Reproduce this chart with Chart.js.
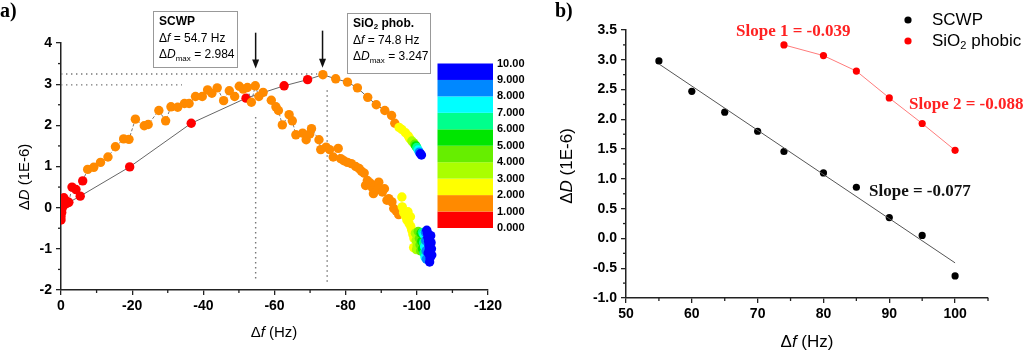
<!DOCTYPE html>
<html>
<head>
<meta charset="utf-8">
<script src="https://cdn.jsdelivr.net/npm/chart.js@4.4.1/dist/chart.umd.min.js"></script>
<style>
  body { margin: 0; background: #fff; width: 1024px; height: 353px; position: relative; overflow: hidden; }
  canvas { position: absolute; top: 0; }
  #chartA { left: 0; }
  #chartB { left: 520px; }
</style>
</head>
<body>
<canvas id="chartA" width="545" height="353"></canvas>
<canvas id="chartB" width="504" height="353"></canvas>
<script>
// ---- panel a data (delta f in Hz, delta D in 1E-6) ----
const scwpDf = [
  0, 0, -0.2, -0.3, -0.5, -0.6, -0.8, -1.5, -2.2, -3.1, -4.2, -6.1,
  -7.5, -9.2, -11.1, -13.2, -15.3, -17.6, -19.1, -20.9, -23.4, -24.5,
  -27.5, -29.4, -30.9, -32.8, -34.7, -36.0, -37.8, -39.7, -41.2, -42.4,
  -43.9, -45.7, -47.3, -48.8, -50.1, -51.2, -52.4, -53.5, -54.6, -55.6,
  -56.8, -59.1, -60.4, -61.1, -62.2, -64.1, -65.0, -66.0, -67.9, -68.9,
  -69.9, -70.4, -72.5, -73.0, -74.5, -75.5, -76.5, -77.9, -78.6, -79.5,
  -80.5, -81.6, -82.8, -83.8, -84.5, -85.2, -86.1, -85.6, -86.9, -87.4,
  -88.4, -89.3, -87.8, -89.0, -90.3, -90.9, -91.6, -92.1, -93.0, -93.5,
  -94.2, -94.9,
  -95.8, -95.9, -96.3, -97.5, -96.8, -98.2, -97.2, -97.8, -98.3, -98.6, -98.9, -99.2, -99.1,
  -99.6, -99.8, -100.1, -99.9,
  -100.4, -100.7, -100.9, -101.1,
  -101.2, -101.4, -101.6,
  -101.6, -101.9, -102.0,
  -102.0, -102.2, -102.3,
  -102.4, -102.5, -102.6, -102.7,
  -102.8, -103.0, -103.1, -103.3, -103.4, -103.5, -103.6, -103.7, -103.6, -104.2, -103.9, -104.0, -104.1, -103.2
];
const scwpDd = [
  -0.30, -0.22, -0.12, -0.02, 0.08, 0.18, 0.24, 0.16, 0.13, 0.50, 0.44, 0.65,
  0.93, 0.98, 1.10, 1.23, 1.48, 1.67, 1.66, 2.15, 1.99, 2.02,
  2.36, 2.11, 2.45, 2.44, 2.53, 2.53, 2.70, 2.70, 2.86, 2.78,
  2.91, 2.60, 2.84, 2.70, 2.95, 2.88, 2.92, 2.56, 2.96, 2.70,
  2.80, 2.61, 2.45, 2.36, 2.01, 2.26, 2.11, 1.77, 1.81, 1.65,
  1.79, 1.92, 1.65, 1.41, 1.47, 1.41, 1.23, 1.44, 1.19, 1.14,
  1.10, 1.07, 1.00, 0.95, 0.88, 0.84, 0.66, 0.54, 0.60, 0.50,
  0.54, 0.62, 0.34, 0.45, 0.38, 0.46, 0.18, 0.22, 0.14, -0.02,
  -0.08, -0.17,
  0.26, 0.02, -0.12, -0.10, -0.20, -0.22, -0.30, -0.38, -0.46, -0.55, -0.65, -0.75, -0.97,
  -0.62, -0.80, -0.92, -1.02,
  -0.58, -0.75, -0.90, -1.05,
  -0.62, -0.82, -1.00,
  -0.60, -0.85, -1.10,
  -0.65, -0.95, -1.20,
  -0.60, -0.80, -1.05, -1.25,
  -0.55, -0.62, -0.72, -0.82, -0.92, -1.02, -1.12, -1.22, -1.32, -1.15, -0.68, -0.85, -1.00, -1.10
];
// number of consecutive points in each colour band 0..9
const scwpBandCounts = [12, 72, 13, 4, 4, 3, 3, 3, 4, 14];

const sioDf = [
  0, -0.3, -0.8, -1.6, -5.4, -19.3, -36.6, -52.0, -62.7, -69.3,
  -73.6, -77.2, -80.5, -83.3, -86.2, -88.6, -91.0, -92.9, -93.8,
  -95.0, -95.8, -96.8, -97.6, -98.0,
  -98.6, -99.0, -99.4, -99.7, -100.0, -100.4, -100.7, -101.0, -101.3
];
const sioDd = [
  0.00, 0.03, 0.06, 0.10, 0.28, 0.99, 2.05, 2.66, 2.96, 3.11,
  3.23, 3.13, 3.05, 2.91, 2.68, 2.50, 2.36, 2.24, 2.05,
  1.95, 1.90, 1.82, 1.74, 1.68,
  1.62, 1.58, 1.54, 1.50, 1.46, 1.40, 1.35, 1.31, 1.28
];
const sioBandCounts = [10, 9, 5, 2, 1, 1, 1, 1, 1, 2];

const bandColors = ['#ff0000', '#ff8a00', '#ffff00', '#aaff00', '#66ee00', '#00e600', '#00ff8c', '#00ffff', '#0088ff', '#0000ff'];
const bandLabels = ['0.000', '1.000', '2.000', '3.000', '4.000', '5.000', '6.000', '7.000', '8.000', '9.000', '10.00'];

const xTicksA = [0, -20, -40, -60, -80, -100, -120];
const xMinorA = [-10, -30, -50, -70, -90, -110];
const yTicksA = [-2, -1, 0, 1, 2, 3, 4];
const yMinorA = [-1.5, -0.5, 0.5, 1.5, 2.5, 3.5];

// peak markers
const peakScwp = { df: -54.7, dd: 2.984 };
const peakSio = { df: -74.8, dd: 3.247 };

// ---- panel b data ----
const scwpDfB = [55, 60, 65, 70, 74, 80, 85, 90, 95, 100];
const scwpDdB = [2.98, 2.47, 2.12, 1.80, 1.46, 1.10, 0.86, 0.35, 0.05, -0.63];
const sioDfB = [74, 80, 85, 90, 95, 100];
const sioDdB = [3.25, 3.07, 2.81, 2.36, 1.93, 1.48];
const fitDfB = [55, 100];
const fitDdB = [2.93, -0.41];

const xTicksB = [50, 60, 70, 80, 90, 100];
const xMinorB = [55, 65, 75, 85, 95, 105];
const yTicksB = [-1.0, -0.5, 0.0, 0.5, 1.0, 1.5, 2.0, 2.5, 3.0, 3.5];
const yMinorB = [-0.75, -0.25, 0.25, 0.75, 1.25, 1.75, 2.25, 2.75, 3.25];

const SANS = '"Liberation Sans", Arial, sans-serif';
const SERIF = '"Liberation Serif", "Times New Roman", serif';

function pts(xs, ys) {
  return xs.map((x, i) => ({ x: x, y: ys[i] }));
}

function colorsFromCounts(counts) {
  const out = [];
  counts.forEach((n, band) => {
    for (let i = 0; i < n; i++) out.push(bandColors[band]);
  });
  return out;
}

// draw a line of text made of several styled parts
function richText(ctx, parts, x, y, align) {
  ctx.textBaseline = 'middle';
  ctx.textAlign = 'left';
  let w = 0;
  parts.forEach(p => { ctx.font = p.font; w += ctx.measureText(p.t).width; });
  let cx = align === 'center' ? x - w / 2 : x;
  parts.forEach(p => {
    ctx.font = p.font;
    ctx.fillStyle = p.color || '#000';
    ctx.fillText(p.t, cx, y + (p.dy || 0));
    cx += ctx.measureText(p.t).width;
  });
}

function minorTicks(chart, axis, values, len) {
  const s = chart.scales[axis], ctx = chart.ctx, a = chart.chartArea;
  ctx.save();
  ctx.strokeStyle = '#222';
  ctx.lineWidth = 1.3;
  values.forEach(v => {
    const p = s.getPixelForValue(v);
    ctx.beginPath();
    if (axis === 'x') { ctx.moveTo(p, a.bottom); ctx.lineTo(p, a.bottom + len); }
    else { ctx.moveTo(a.left, p); ctx.lineTo(a.left - len, p); }
    ctx.stroke();
  });
  ctx.restore();
}

function axisTitles(chart, size, xPos, yPos) {
  const ctx = chart.ctx;
  const reg = size + 'px ' + SANS, ital = 'italic ' + size + 'px ' + SANS;
  richText(ctx, [{ t: '\u0394', font: reg }, { t: 'f', font: ital }, { t: ' (Hz)', font: reg }], xPos[0], xPos[1], 'center');
  ctx.save();
  ctx.translate(yPos[0], yPos[1]);
  ctx.rotate(-Math.PI / 2);
  richText(ctx, [{ t: '\u0394', font: reg }, { t: 'D', font: ital }, { t: ' (1E-6)', font: reg }], 0, 0, 'center');
  ctx.restore();
}

function downArrow(ctx, x, y1, y2) {
  ctx.save();
  ctx.strokeStyle = '#111';
  ctx.fillStyle = '#111';
  ctx.lineWidth = 1.5;
  ctx.beginPath();
  ctx.moveTo(x, y1);
  ctx.lineTo(x, y2 - 6);
  ctx.stroke();
  ctx.beginPath();
  ctx.moveTo(x - 3.5, y2 - 9);
  ctx.lineTo(x + 3.5, y2 - 9);
  ctx.lineTo(x, y2);
  ctx.closePath();
  ctx.fill();
  ctx.restore();
}

function infoBox(ctx, x, y, w, h, title, df, dd) {
  ctx.save();
  ctx.strokeStyle = '#999';
  ctx.lineWidth = 1;
  ctx.strokeRect(x + 0.5, y + 0.5, w, h);
  const b = 'bold 12px ' + SANS, r = '12px ' + SANS, it = 'italic 12px ' + SANS, sub = '8px ' + SANS;
  richText(ctx, title, x + 6, y + 11, 'left');
  richText(ctx, [{ t: '\u0394', font: r }, { t: 'f', font: it }, { t: ' = ' + df + ' Hz', font: r }], x + 6, y + 28, 'left');
  richText(ctx, [{ t: '\u0394', font: r }, { t: 'D', font: it }, { t: 'max', font: sub, dy: 4 }, { t: ' = ' + dd, font: r }], x + 6, y + 44, 'left');
  ctx.restore();
}

const decorA = {
  id: 'decorA',
  beforeDatasetsDraw(chart) {
    const ctx = chart.ctx, xs = chart.scales.x, ys = chart.scales.y;
    ctx.save();
    ctx.strokeStyle = '#777';
    ctx.lineWidth = 1.4;
    ctx.setLineDash([1.4, 3.6]);
    const seg = (x1, y1, x2, y2) => {
      ctx.beginPath();
      ctx.moveTo(xs.getPixelForValue(x1), ys.getPixelForValue(y1));
      ctx.lineTo(xs.getPixelForValue(x2), ys.getPixelForValue(y2));
      ctx.stroke();
    };
    seg(0, peakSio.dd, -72, peakSio.dd);
    seg(0, peakScwp.dd, -34, peakScwp.dd);
    seg(peakScwp.df, 2.2, peakScwp.df, -1.8);
    seg(peakSio.df, 2.85, peakSio.df, -1.85);
    ctx.restore();
  },
  afterDraw(chart) {
    const ctx = chart.ctx, xs = chart.scales.x, ys = chart.scales.y;
    minorTicks(chart, 'x', xMinorA, 3);
    minorTicks(chart, 'y', yMinorA, 3);
    axisTitles(chart, 15, [274, 333], [25, 177]);

    // arrows pointing at the two maxima
    downArrow(ctx, xs.getPixelForValue(peakScwp.df), ys.getPixelForValue(4.25), ys.getPixelForValue(3.38));
    downArrow(ctx, xs.getPixelForValue(-73.5), ys.getPixelForValue(4.3), ys.getPixelForValue(3.4));

    const b = 'bold 12px ' + SANS;
    infoBox(ctx, 153, 11, 84, 56, [{ t: 'SCWP', font: b }], '54.7', '2.984');
    infoBox(ctx, 347, 13, 83, 60, [{ t: 'SiO', font: b }, { t: '2', font: 'bold 8px ' + SANS, dy: 3 }, { t: ' phob.', font: b }], '74.8', '3.247');

    // colour scale
    const cx = 437.5, cy = 63.5, cw = 55.5, ch = 164.5, bh = ch / bandColors.length;
    bandColors.forEach((c, i) => {
      ctx.fillStyle = c;
      ctx.fillRect(cx, cy + ch - (i + 1) * bh, cw, bh);
    });
    ctx.fillStyle = '#000';
    ctx.font = 'bold 11px ' + SANS;
    ctx.textAlign = 'left';
    ctx.textBaseline = 'middle';
    bandLabels.forEach((l, i) => ctx.fillText(l, cx + cw + 4, cy + ch - i * bh));

    ctx.font = 'bold 20px ' + SERIF;
    ctx.fillText('a)', 0, 12);
  }
};

const decorB = {
  id: 'decorB',
  afterDraw(chart) {
    const ctx = chart.ctx;
    minorTicks(chart, 'x', xMinorB, 3);
    minorTicks(chart, 'y', yMinorB, 3);
    axisTitles(chart, 17, [287, 342], [47, 166]);

    // legend
    const r = '17px ' + SANS;
    ctx.fillStyle = '#000';
    ctx.beginPath(); ctx.arc(388, 20, 3.6, 0, Math.PI * 2); ctx.fill();
    ctx.fillStyle = '#ff0000';
    ctx.beginPath(); ctx.arc(388, 41, 3.6, 0, Math.PI * 2); ctx.fill();
    richText(ctx, [{ t: 'SCWP', font: r }], 412, 20, 'left');
    richText(ctx, [{ t: 'SiO', font: r }, { t: '2', font: '11px ' + SANS, dy: 5 }, { t: ' phobic', font: r }], 412, 41, 'left');

    // slope labels
    const s = 'bold 17px ' + SERIF;
    richText(ctx, [{ t: 'Slope 1 = -0.039', font: s, color: '#ff2222' }], 216, 32, 'left');
    richText(ctx, [{ t: 'Slope 2 = -0.088', font: s, color: '#ff2222' }], 389, 105, 'left');
    richText(ctx, [{ t: 'Slope = -0.077', font: s, color: '#111' }], 349, 192, 'left');

    ctx.fillStyle = '#000';
    ctx.font = 'bold 20px ' + SERIF;
    ctx.textAlign = 'left';
    ctx.fillText('b)', 35, 12);
  }
};

function axisOpts(min, max, ticks, fmt, fitSize, isX) {
  return {
    type: 'linear',
    min: min,
    max: max,
    afterFit: s => { if (isX) s.height = fitSize; else s.width = fitSize; },
    afterBuildTicks: s => { s.ticks = ticks.map(v => ({ value: v })); },
    grid: { drawOnChartArea: false, drawTicks: true, tickLength: 5, color: '#222', lineWidth: 1.3 },
    border: { display: true, color: '#222', width: 1.5 },
    ticks: {
      color: '#000',
      font: { family: SANS, size: 14, weight: 'bold' },
      padding: isX ? 3 : 4,
      maxRotation: 0,
      autoSkip: false,
      callback: fmt
    }
  };
}

// ---- panel a ----
const xA = axisOpts(-120, 0, xTicksA, v => String(v), 63, true);
xA.reverse = true;
new Chart(document.getElementById('chartA').getContext('2d'), {
  type: 'scatter',
  data: {
    datasets: [
      {
        label: 'SCWP',
        data: pts(scwpDf, scwpDd),
        showLine: true,
        borderColor: '#777',
        borderWidth: 1,
        borderDash: [3, 2],
        pointBackgroundColor: colorsFromCounts(scwpBandCounts),
        pointBorderWidth: 0,
        pointRadius: 4.7
      },
      {
        label: 'SiO2 phob.',
        data: pts(sioDf, sioDd),
        showLine: true,
        borderColor: '#666',
        borderWidth: 1,
        pointBackgroundColor: colorsFromCounts(sioBandCounts),
        pointBorderWidth: 0,
        pointRadius: 4.7
      }
    ]
  },
  options: {
    responsive: false,
    animation: false,
    layout: { padding: { left: 0, right: 57, top: 43, bottom: 0 } },
    plugins: { legend: { display: false }, tooltip: { enabled: false } },
    scales: {
      x: xA,
      y: axisOpts(-2, 4, yTicksA, v => String(v), 61, false)
    }
  },
  plugins: [decorA]
});

// ---- panel b ----
new Chart(document.getElementById('chartB').getContext('2d'), {
  type: 'scatter',
  data: {
    datasets: [
      {
        label: 'fit',
        data: pts(fitDfB, fitDdB),
        showLine: true,
        borderColor: '#555',
        borderWidth: 1,
        pointRadius: 0
      },
      {
        label: 'SCWP',
        data: pts(scwpDfB, scwpDdB),
        showLine: false,
        pointBackgroundColor: '#000',
        pointBorderWidth: 0,
        pointRadius: 3.6
      },
      {
        label: 'SiO2 phobic',
        data: pts(sioDfB, sioDdB),
        showLine: true,
        borderColor: '#ff7b7b',
        borderWidth: 1,
        pointBackgroundColor: '#ff0000',
        pointBorderWidth: 0,
        pointRadius: 3.6
      }
    ]
  },
  options: {
    responsive: false,
    animation: false,
    layout: { padding: { left: 0, right: 36, top: 30, bottom: 0 } },
    plugins: { legend: { display: false }, tooltip: { enabled: false } },
    scales: {
      x: axisOpts(50, 105, xTicksB, v => String(v), 55, true),
      y: axisOpts(-1, 3.5, yTicksB, v => v.toFixed(1), 106, false)
    }
  },
  plugins: [decorB]
});
</script>
</body>
</html>
